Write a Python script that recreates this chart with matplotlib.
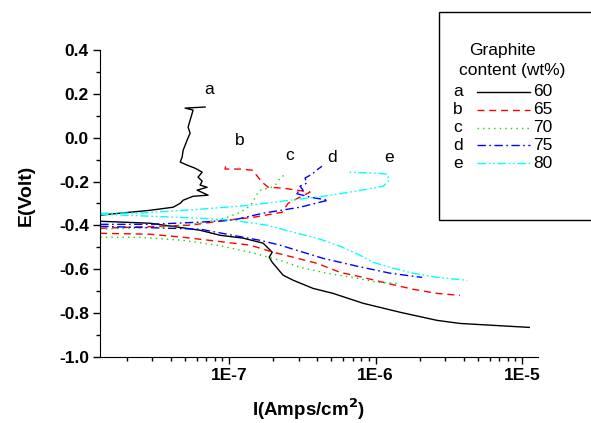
import matplotlib
matplotlib.use("Agg")
import matplotlib.pyplot as plt
from matplotlib.lines import Line2D
from matplotlib.patches import Rectangle
from matplotlib.ticker import LogLocator, FixedLocator, MultipleLocator, FuncFormatter, NullFormatter
import numpy as np

plt.rcParams['font.family'] = ['Liberation Sans', 'DejaVu Sans']

# ---- data: current density (A/cm2) and potential (V) ----
# curve a (60 wt%)
a_anodic_I = [1.32e-8, 2.89e-8, 4.15e-8, 4.64e-8, 4.86e-8, 5.68e-8, 7.19e-8, 6.05e-8, 7.08e-8, 6.34e-8,
              6.55e-8, 6.14e-8, 6.55e-8, 5.86e-8, 5.17e-8, 4.64e-8, 4.78e-8, 4.86e-8, 5.17e-8, 5.42e-8,
              5.25e-8, 5.68e-8, 5.01e-8, 6.86e-8]
a_anodic_E = [-0.353, -0.331, -0.317, -0.299, -0.285, -0.267, -0.262, -0.239, -0.226, -0.216,
              -0.198, -0.180, -0.157, -0.139, -0.125, -0.111, -0.089, -0.057, -0.011, 0.021,
              0.048, 0.126, 0.135, 0.140]
a_cathodic_I = [1.32e-8, 2.89e-8, 6.34e-8, 8.69e-8, 1.25e-7, 1.71e-7, 1.85e-7, 1.97e-7, 1.88e-7, 1.97e-7,
                2.13e-7, 2.34e-7, 2.74e-7, 3.74e-7, 5.13e-7, 8.22e-7, 1.47e-6, 2.63e-6, 3.77e-6, 1.12e-5]
a_cathodic_E = [-0.381, -0.390, -0.422, -0.445, -0.458, -0.481, -0.504, -0.522, -0.545, -0.568,
                -0.595, -0.627, -0.650, -0.687, -0.710, -0.755, -0.796, -0.833, -0.847, -0.865]

# curve b (65 wt%)
b_anodic_I = [1.32e-8, 5.42e-8, 9.69e-8, 1.46e-7, 2.30e-7, 2.53e-7, 3.05e-7, 3.57e-7, 2.34e-7, 1.85e-7,
              1.68e-7, 1.58e-7, 1.44e-7, 1.19e-7, 9.39e-8, 9.55e-8]
b_anodic_E = [-0.413, -0.399, -0.376, -0.363, -0.340, -0.299, -0.271, -0.248, -0.230, -0.226,
              -0.203, -0.180, -0.148, -0.143, -0.143, -0.121]
b_cathodic_I = [1.32e-8, 2.89e-8, 4.86e-8, 8.28e-8, 1.39e-7, 2.00e-7, 2.74e-7, 3.99e-7, 5.73e-7, 8.22e-7,
                1.20e-6, 1.80e-6, 2.63e-6, 3.77e-6]
b_cathodic_E = [-0.436, -0.440, -0.454, -0.472, -0.490, -0.522, -0.545, -0.573, -0.614, -0.637,
                -0.664, -0.691, -0.710, -0.719]

# curve c (70 wt%)
c_anodic_I = [1.32e-8, 3.38e-8, 6.34e-8, 9.39e-8, 1.19e-7, 1.39e-7, 1.50e-7, 1.58e-7, 1.68e-7, 1.90e-7,
              2.09e-7, 2.23e-7, 2.49e-7]
c_anodic_E = [-0.417, -0.408, -0.390, -0.367, -0.340, -0.312, -0.276, -0.248, -0.235, -0.230,
              -0.212, -0.184, -0.162]
c_cathodic_I = [1.32e-8, 2.47e-8, 4.86e-8, 8.28e-8, 1.39e-7, 2.23e-7, 3.05e-7, 4.67e-7, 7.48e-7, 1.02e-6,
                1.40e-6]
c_cathodic_E = [-0.454, -0.454, -0.468, -0.490, -0.522, -0.559, -0.591, -0.618, -0.641, -0.659,
                -0.664]

# curve d (75 wt%)
d_anodic_I = [1.32e-8, 2.89e-8, 6.34e-8, 1.06e-7, 1.71e-7, 3.05e-7, 4.74e-7, 3.57e-7, 2.82e-7, 3.20e-7,
              3.05e-7, 3.40e-7, 3.30e-7, 3.69e-7, 4.05e-7, 4.31e-7]
d_anodic_E = [-0.395, -0.395, -0.385, -0.376, -0.344, -0.317, -0.285, -0.271, -0.253, -0.239,
              -0.221, -0.207, -0.184, -0.166, -0.143, -0.130]
d_cathodic_I = [1.32e-8, 6.34e-8, 1.06e-7, 1.63e-7, 2.23e-7, 3.05e-7, 4.38e-7, 7.48e-7, 1.26e-6, 2.08e-6]
d_cathodic_E = [-0.404, -0.417, -0.445, -0.468, -0.490, -0.518, -0.550, -0.586, -0.618, -0.637]

# curve e (80 wt%)
e_anodic_I = [1.32e-8, 2.47e-8, 6.34e-8, 1.39e-7, 2.61e-7, 4.38e-7, 6.70e-7, 8.75e-7, 1.13e-6, 1.24e-6,
              1.20e-6, 1.02e-6, 6.49e-7]
e_anodic_E = [-0.344, -0.344, -0.326, -0.308, -0.285, -0.267, -0.248, -0.235, -0.221, -0.194,
              -0.166, -0.162, -0.157]
e_cathodic_I = [1.32e-8, 2.89e-8, 6.34e-8, 1.06e-7, 1.82e-7, 2.74e-7, 3.99e-7, 5.73e-7, 7.83e-7, 9.61e-7,
                1.32e-6, 1.80e-6, 2.63e-6, 4.22e-6]
e_cathodic_E = [-0.349, -0.358, -0.367, -0.376, -0.399, -0.431, -0.458, -0.495, -0.536, -0.568,
                -0.595, -0.618, -0.637, -0.650]

curve_letters = ['a', 'b', 'c', 'd', 'e']
graphite_wt = ['60', '65', '70', '75', '80']
letter_I = [7.3e-8, 1.19e-7, 2.61e-7, 5.05e-7, 1.24e-6]
letter_E = [0.222, -0.011, -0.079, -0.089, -0.089]
y_ticks = [-1.0, -0.8, -0.6, -0.4, -0.2, 0.0, 0.2, 0.4]
x_ticks = [1e-7, 1e-6, 1e-5]
x_tick_labels = ['1E-7', '1E-6', '1E-5']

# ---- styles ----
colors = ['black', '#ff0000', '#00e000', '#0000ff', '#00ffff']
styles = ['-', (0, (5, 3.5)), (0, (1, 3)), (0, (6, 2.5, 1.2, 2.5)), (0, (6, 2, 1.2, 2, 1.2, 2))]

fig = plt.figure(figsize=(5.91, 4.23), dpi=100)
ax = fig.add_axes([100/591, 1-357/423, 438/591, 307/423])

series = [
    (a_anodic_I, a_anodic_E, a_cathodic_I, a_cathodic_E),
    (b_anodic_I, b_anodic_E, b_cathodic_I, b_cathodic_E),
    (c_anodic_I, c_anodic_E, c_cathodic_I, c_cathodic_E),
    (d_anodic_I, d_anodic_E, d_cathodic_I, d_cathodic_E),
    (e_anodic_I, e_anodic_E, e_cathodic_I, e_cathodic_E),
]
for (ai, ae, ci, ce), col, ls in zip(series, colors, styles):
    ax.plot(ai, ae, color=col, linestyle=ls, linewidth=1.0)
    ax.plot(ci, ce, color=col, linestyle=ls, linewidth=1.0)

for lt, xi, ye in zip(curve_letters, letter_I, letter_E):
    ax.text(xi, ye, lt, fontsize=12.5, ha='center', va='center')

ax.set_xscale('log')
ax.set_xlim(1.315e-8, 1.285e-5)
ax.set_ylim(-1.0, 0.4)
for s in ['top', 'right']:
    ax.spines[s].set_visible(False)
ax.xaxis.set_major_locator(FixedLocator(x_ticks))
ax.xaxis.set_major_formatter(FuncFormatter(lambda v, p: dict(zip(x_ticks, x_tick_labels)).get(v, '')))
ax.xaxis.set_minor_locator(LogLocator(base=10, subs=np.arange(2, 10)))
ax.xaxis.set_minor_formatter(NullFormatter())
ax.yaxis.set_major_locator(FixedLocator(y_ticks))
ax.yaxis.set_minor_locator(MultipleLocator(0.1))
ax.yaxis.set_major_formatter(FuncFormatter(lambda v, p: f'{v:.1f}'))
ax.tick_params(which='major', direction='out', length=5, width=1, labelsize=12.5, pad=3)
ax.tick_params(which='minor', direction='out', length=3, width=1)
for lab in ax.get_xticklabels() + ax.get_yticklabels():
    lab.set_fontweight('bold')
ax.set_ylabel('E(Volt)', fontsize=14, fontweight='bold')
ax.yaxis.set_label_coords(-0.148, 0.528)
ax.set_xlabel(r'I(Amps/cm$^\mathbf{2}$)', fontsize=13.5, fontweight='bold')
ax.xaxis.set_label_coords(0.477, -0.128)

# ---- legend box (figure pixels -> fraction) ----
W, H = 591, 423
fig.patches.append(Rectangle((439/W, 1-220/H), (600-439)/W, (220-12)/H, transform=fig.transFigure,
                             fill=False, edgecolor='black', linewidth=1.0, clip_on=False))
fig.text(502/W, 1-50/H, 'Graphite', fontsize=12.5, ha='center', va='center')
fig.text(512/W, 1-71/H, 'content (wt%)', fontsize=12.5, ha='center', va='center')
row_y = [92, 110, 128, 145, 163]
for lt, wt, col, ls, ry in zip(curve_letters, graphite_wt, colors, styles, row_y):
    fig.text(458/W, 1-ry/H, lt, fontsize=12.5, ha='center', va='center')
    fig.lines.append(Line2D([477/W, 530/W], [1-ry/H, 1-ry/H], transform=fig.transFigure,
                            color=col, linestyle=ls, linewidth=1.0))
    fig.text(533/W, 1-ry/H, wt, fontsize=12.5, ha='left', va='center')

fig.savefig('out.png', dpi=100)
